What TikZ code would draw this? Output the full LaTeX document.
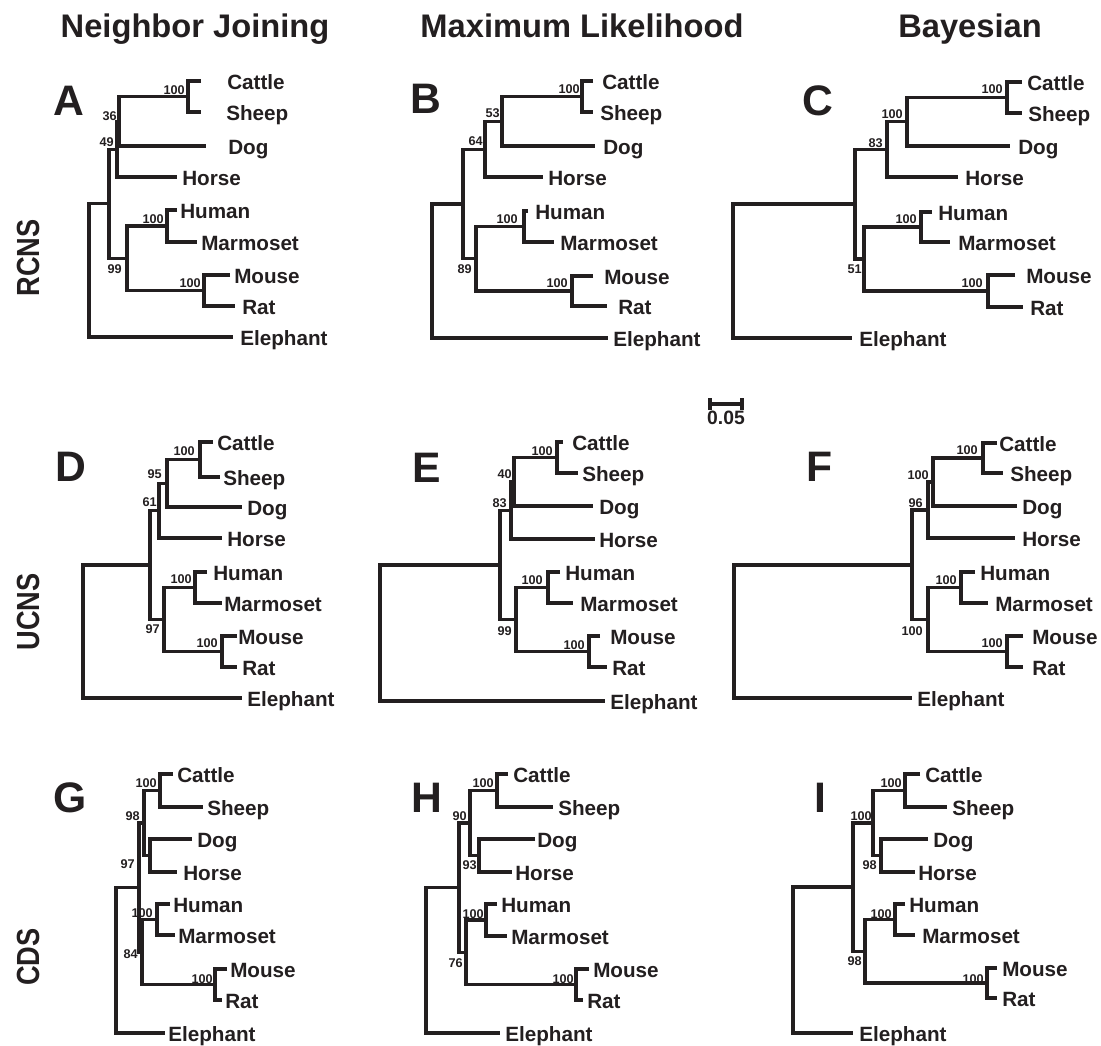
\documentclass[tikz,border=0pt]{standalone}
\usepackage{fontspec}
\setmainfont{Liberation Sans}
\definecolor{Ink}{HTML}{231F20}
\tikzset{
  br/.style={draw=Ink, line width=2.3pt},
  tip/.style={anchor=base west, yshift=-6pt, inner sep=0pt, text=Ink, font=\fontsize{15.5}{18}\selectfont\bfseries},
  bs/.style={anchor=base east, inner sep=0pt, text=Ink, font=\fontsize{9.5}{11}\selectfont\bfseries},
  pl/.style={anchor=base west, inner sep=0pt, text=Ink, font=\fontsize{32}{36}\selectfont\bfseries},
  hd/.style={anchor=base, inner sep=0pt, text=Ink, font=\fontsize{24.5}{28}\selectfont\bfseries},
  rl/.style={rotate=90, inner sep=0pt, text=Ink, font=\fontsize{24}{28}\selectfont\bfseries}
}
\begin{document}
\begin{tikzpicture}[x=0.75pt, y=-0.75pt]
  \useasboundingbox (0,0) rectangle (1101,1046);

  \node[hd] (hNJ) at (195,37) {Neighbor Joining};
  \node[hd] (hML) at (582,37) {Maximum Likelihood};
  \node[hd] (hBA) at (970,37) {Bayesian};
  \node[rl] (rR) at (28,258) {\scalebox{0.85}[1]{RCNS}};
  \node[rl] (rU) at (28,612) {\scalebox{0.85}[1]{UCNS}};
  \node[rl] (rC) at (28,957) {\scalebox{0.85}[1]{CDS}};

  % A
  \node[pl] (lA) at (53,115) {A};
  \coordinate (aCat) at (201,81);  \node[tip] (aCatT) at (227,81) {Cattle};
  \coordinate (aShp) at (201,112); \node[tip] (aShpT) at (226,112) {Sheep};
  \coordinate (aDog) at (206,146); \node[tip] (aDogT) at (228,146) {Dog};
  \coordinate (aHor) at (177,177); \node[tip] (aHorT) at (182,177) {Horse};
  \coordinate (aHum) at (177,210); \node[tip] (aHumT) at (180,210) {Human};
  \coordinate (aMar) at (197,242); \node[tip] (aMarT) at (201,242) {Marmoset};
  \coordinate (aMou) at (230,275); \node[tip] (aMouT) at (234,275) {Mouse};
  \coordinate (aRat) at (235,306); \node[tip] (aRatT) at (242,306) {Rat};
  \coordinate (aEle) at (233,337); \node[tip] (aEleT) at (240,337) {Elephant};
  \coordinate (aCS) at (188,96.5);
  \coordinate (a36) at (119,121.3);
  \coordinate (a49) at (117,149.1);
  \coordinate (aHM) at (167,226);
  \coordinate (aMR) at (204,290.5);
  \coordinate (a99) at (127,258.3);
  \coordinate (aIn) at (109,203.7);
  \coordinate (aRt) at (89,270);
  \draw[br] (aCat) -| (aCS) |- (aShp);
  \draw[br] (aCS) -| (a36) |- (aDog);
  \draw[br] (a36) -| (a49) |- (aHor);
  \draw[br] (aHum) -| (aHM) |- (aMar);
  \draw[br] (aMou) -| (aMR) |- (aRat);
  \draw[br] (aHM) -| (a99) |- (aMR);
  \draw[br] (a49) -| (aIn) |- (a99);
  \draw[br] (aIn) -| (aRt) |- (aEle);
  \node[bs] (aB1) at (185,94) {100};
  \node[bs] (aB2) at (117,120) {36};
  \node[bs] (aB3) at (114,146) {49};
  \node[bs] (aB4) at (164,223) {100};
  \node[bs] (aB5) at (122,273) {99};
  \node[bs] (aB6) at (201,287) {100};

  % B
  \node[pl] (lB) at (410,113) {B};
  \coordinate (bCat) at (593,81);  \node[tip] (bCatT) at (602,81) {Cattle};
  \coordinate (bShp) at (593,112); \node[tip] (bShpT) at (600,112) {Sheep};
  \coordinate (bDog) at (595,146); \node[tip] (bDogT) at (603,146) {Dog};
  \coordinate (bHor) at (543,177); \node[tip] (bHorT) at (548,177) {Horse};
  \coordinate (bHum) at (528,211); \node[tip] (bHumT) at (535,211) {Human};
  \coordinate (bMar) at (554,242); \node[tip] (bMarT) at (560,242) {Marmoset};
  \coordinate (bMou) at (593,276); \node[tip] (bMouT) at (604,276) {Mouse};
  \coordinate (bRat) at (607,306); \node[tip] (bRatT) at (618,306) {Rat};
  \coordinate (bEle) at (608,338); \node[tip] (bEleT) at (613,338) {Elephant};
  \coordinate (bCS) at (582,96.5);
  \coordinate (b53) at (502,121.3);
  \coordinate (b64) at (485,149.1);
  \coordinate (bHM) at (524,226.5);
  \coordinate (bMR) at (572,291);
  \coordinate (b89) at (476,258.8);
  \coordinate (bIn) at (463,204);
  \coordinate (bRt) at (432,270);
  \draw[br] (bCat) -| (bCS) |- (bShp);
  \draw[br] (bCS) -| (b53) |- (bDog);
  \draw[br] (b53) -| (b64) |- (bHor);
  \draw[br] (bHum) -| (bHM) |- (bMar);
  \draw[br] (bMou) -| (bMR) |- (bRat);
  \draw[br] (bHM) -| (b89) |- (bMR);
  \draw[br] (b64) -| (bIn) |- (b89);
  \draw[br] (bIn) -| (bRt) |- (bEle);
  \node[bs] (bB1) at (580,93) {100};
  \node[bs] (bB2) at (500,117) {53};
  \node[bs] (bB3) at (483,145) {64};
  \node[bs] (bB4) at (518,223) {100};
  \node[bs] (bB5) at (472,273) {89};
  \node[bs] (bB6) at (568,287) {100};

  % C
  \node[pl] (lC) at (802,115) {C};
  \coordinate (cCat) at (1022,82);  \node[tip] (cCatT) at (1027,82) {Cattle};
  \coordinate (cShp) at (1022,113); \node[tip] (cShpT) at (1028,113) {Sheep};
  \coordinate (cDog) at (1010,146); \node[tip] (cDogT) at (1018,146) {Dog};
  \coordinate (cHor) at (958,177);  \node[tip] (cHorT) at (965,177) {Horse};
  \coordinate (cHum) at (932,212);  \node[tip] (cHumT) at (938,212) {Human};
  \coordinate (cMar) at (950,242);  \node[tip] (cMarT) at (958,242) {Marmoset};
  \coordinate (cMou) at (1015,275); \node[tip] (cMouT) at (1026,275) {Mouse};
  \coordinate (cRat) at (1023,307); \node[tip] (cRatT) at (1030,307) {Rat};
  \coordinate (cEle) at (852,338);  \node[tip] (cEleT) at (859,338) {Elephant};
  \coordinate (cCS) at (1007,97.5);
  \coordinate (c100) at (907,121.8);
  \coordinate (c83) at (887,149.4);
  \coordinate (cHM) at (921,227);
  \coordinate (cMR) at (988,291);
  \coordinate (c51) at (864,259);
  \coordinate (cIn) at (855,204);
  \coordinate (cRt) at (733,270);
  \draw[br] (cCat) -| (cCS) |- (cShp);
  \draw[br] (cCS) -| (c100) |- (cDog);
  \draw[br] (c100) -| (c83) |- (cHor);
  \draw[br] (cHum) -| (cHM) |- (cMar);
  \draw[br] (cMou) -| (cMR) |- (cRat);
  \draw[br] (cHM) -| (c51) |- (cMR);
  \draw[br] (c83) -| (cIn) |- (c51);
  \draw[br] (cIn) -| (cRt) |- (cEle);
  \node[bs] (cB1) at (1003,93) {100};
  \node[bs] (cB2) at (903,118) {100};
  \node[bs] (cB3) at (883,147) {83};
  \node[bs] (cB4) at (917,223) {100};
  \node[bs] (cB5) at (862,273) {51};
  \node[bs] (cB6) at (983,287) {100};

  \draw[br] (710,398) -- (710,410) (710,404) -- (742,404) (742,398) -- (742,410);
  \node[anchor=base, inner sep=0pt, text=Ink, font=\fontsize{14.5}{17}\selectfont\bfseries] (scl) at (726,424) {0.05};

  % D
  \node[pl] (lD) at (55,481) {D};
  \coordinate (dCat) at (213,442); \node[tip] (dCatT) at (217,442) {Cattle};
  \coordinate (dShp) at (220,477); \node[tip] (dShpT) at (223,477) {Sheep};
  \coordinate (dDog) at (242,507); \node[tip] (dDogT) at (247,507) {Dog};
  \coordinate (dHor) at (222,538); \node[tip] (dHorT) at (227,538) {Horse};
  \coordinate (dHum) at (207,572); \node[tip] (dHumT) at (213,572) {Human};
  \coordinate (dMar) at (222,603); \node[tip] (dMarT) at (224,603) {Marmoset};
  \coordinate (dMou) at (237,636); \node[tip] (dMouT) at (238,636) {Mouse};
  \coordinate (dRat) at (237,667); \node[tip] (dRatT) at (242,667) {Rat};
  \coordinate (dEle) at (242,698); \node[tip] (dEleT) at (247,698) {Elephant};
  \coordinate (dCS) at (200,459.5);
  \coordinate (d95) at (167,483.3);
  \coordinate (d61) at (159,510.6);
  \coordinate (dHM) at (195,587.5);
  \coordinate (dMR) at (222,651.5);
  \coordinate (d97) at (164,619.5);
  \coordinate (dIn) at (150,565);
  \coordinate (dRt) at (83,630);
  \draw[br] (dCat) -| (dCS) |- (dShp);
  \draw[br] (dCS) -| (d95) |- (dDog);
  \draw[br] (d95) -| (d61) |- (dHor);
  \draw[br] (dHum) -| (dHM) |- (dMar);
  \draw[br] (dMou) -| (dMR) |- (dRat);
  \draw[br] (dHM) -| (d97) |- (dMR);
  \draw[br] (d61) -| (dIn) |- (d97);
  \draw[br] (dIn) -| (dRt) |- (dEle);
  \node[bs] (dB1) at (195,455) {100};
  \node[bs] (dB2) at (162,478) {95};
  \node[bs] (dB3) at (157,506) {61};
  \node[bs] (dB4) at (192,583) {100};
  \node[bs] (dB5) at (160,633) {97};
  \node[bs] (dB6) at (218,647) {100};

  % E
  \node[pl] (lE) at (412,482) {E};
  \coordinate (eCat) at (563,442); \node[tip] (eCatT) at (572,442) {Cattle};
  \coordinate (eShp) at (578,473); \node[tip] (eShpT) at (582,473) {Sheep};
  \coordinate (eDog) at (593,506); \node[tip] (eDogT) at (599,506) {Dog};
  \coordinate (eHor) at (595,539); \node[tip] (eHorT) at (599,539) {Horse};
  \coordinate (eHum) at (560,572); \node[tip] (eHumT) at (565,572) {Human};
  \coordinate (eMar) at (573,603); \node[tip] (eMarT) at (580,603) {Marmoset};
  \coordinate (eMou) at (600,636); \node[tip] (eMouT) at (610,636) {Mouse};
  \coordinate (eRat) at (607,667); \node[tip] (eRatT) at (612,667) {Rat};
  \coordinate (eEle) at (605,701); \node[tip] (eEleT) at (610,701) {Elephant};
  \coordinate (eCS) at (557,457.5);
  \coordinate (e40) at (514,481.8);
  \coordinate (e83) at (511,510.4);
  \coordinate (eHM) at (548,587.5);
  \coordinate (eMR) at (589,651.5);
  \coordinate (e99) at (516,619.5);
  \coordinate (eIn) at (500,565);
  \coordinate (eRt) at (380,630);
  \draw[br] (eCat) -| (eCS) |- (eShp);
  \draw[br] (eCS) -| (e40) |- (eDog);
  \draw[br] (e40) -| (e83) |- (eHor);
  \draw[br] (eHum) -| (eHM) |- (eMar);
  \draw[br] (eMou) -| (eMR) |- (eRat);
  \draw[br] (eHM) -| (e99) |- (eMR);
  \draw[br] (e83) -| (eIn) |- (e99);
  \draw[br] (eIn) -| (eRt) |- (eEle);
  \node[bs] (eB1) at (553,455) {100};
  \node[bs] (eB2) at (512,478) {40};
  \node[bs] (eB3) at (507,507) {83};
  \node[bs] (eB4) at (543,584) {100};
  \node[bs] (eB5) at (512,635) {99};
  \node[bs] (eB6) at (585,649) {100};

  % F
  \node[pl] (lF) at (806,481) {F};
  \coordinate (fCat) at (997,443);  \node[tip] (fCatT) at (999,443) {Cattle};
  \coordinate (fShp) at (1003,473); \node[tip] (fShpT) at (1010,473) {Sheep};
  \coordinate (fDog) at (1017,506); \node[tip] (fDogT) at (1022,506) {Dog};
  \coordinate (fHor) at (1015,538); \node[tip] (fHorT) at (1022,538) {Horse};
  \coordinate (fHum) at (975,572);  \node[tip] (fHumT) at (980,572) {Human};
  \coordinate (fMar) at (988,603);  \node[tip] (fMarT) at (995,603) {Marmoset};
  \coordinate (fMou) at (1023,636); \node[tip] (fMouT) at (1032,636) {Mouse};
  \coordinate (fRat) at (1023,667); \node[tip] (fRatT) at (1032,667) {Rat};
  \coordinate (fEle) at (912,698);  \node[tip] (fEleT) at (917,698) {Elephant};
  \coordinate (fCS) at (983,458);
  \coordinate (f100) at (933,482);
  \coordinate (f96) at (928,510);
  \coordinate (fHM) at (961,587.5);
  \coordinate (fMR) at (1007,651.5);
  \coordinate (fEu) at (928,619.5);
  \coordinate (fIn) at (912,565);
  \coordinate (fRt) at (734,630);
  \draw[br] (fCat) -| (fCS) |- (fShp);
  \draw[br] (fCS) -| (f100) |- (fDog);
  \draw[br] (f100) -| (f96) |- (fHor);
  \draw[br] (fHum) -| (fHM) |- (fMar);
  \draw[br] (fMou) -| (fMR) |- (fRat);
  \draw[br] (fHM) -| (fEu) |- (fMR);
  \draw[br] (f96) -| (fIn) |- (fEu);
  \draw[br] (fIn) -| (fRt) |- (fEle);
  \node[bs] (fB1) at (978,454) {100};
  \node[bs] (fB2) at (929,479) {100};
  \node[bs] (fB3) at (923,507) {96};
  \node[bs] (fB4) at (957,584) {100};
  \node[bs] (fB5) at (923,635) {100};
  \node[bs] (fB6) at (1003,647) {100};

  % G
  \node[pl] (lG) at (53,812) {G};
  \coordinate (gCat) at (173,774);  \node[tip] (gCatT) at (177,774) {Cattle};
  \coordinate (gShp) at (203,807);  \node[tip] (gShpT) at (207,807) {Sheep};
  \coordinate (gDog) at (192,839);  \node[tip] (gDogT) at (197,839) {Dog};
  \coordinate (gHor) at (177,872);  \node[tip] (gHorT) at (183,872) {Horse};
  \coordinate (gHum) at (170,904);  \node[tip] (gHumT) at (173,904) {Human};
  \coordinate (gMar) at (175,935);  \node[tip] (gMarT) at (178,935) {Marmoset};
  \coordinate (gMou) at (227,969);  \node[tip] (gMouT) at (230,969) {Mouse};
  \coordinate (gRat) at (222,1000); \node[tip] (gRatT) at (225,1000) {Rat};
  \coordinate (gEle) at (165,1033); \node[tip] (gEleT) at (168,1033) {Elephant};
  \coordinate (gCS) at (160,790.5);
  \coordinate (gDH) at (150,855.5);
  \coordinate (g98) at (144,823);
  \coordinate (gHM) at (157,919.5);
  \coordinate (gMR) at (215,984.5);
  \coordinate (g84) at (142,952);
  \coordinate (g97) at (139,887.5);
  \coordinate (gRt) at (116,960);
  \draw[br] (gCat) -| (gCS) |- (gShp);
  \draw[br] (gDog) -| (gDH) |- (gHor);
  \draw[br] (gCS) -| (g98) |- (gDH);
  \draw[br] (gHum) -| (gHM) |- (gMar);
  \draw[br] (gMou) -| (gMR) |- (gRat);
  \draw[br] (gHM) -| (g84) |- (gMR);
  \draw[br] (g98) -| (g97) |- (g84);
  \draw[br] (g97) -| (gRt) |- (gEle);
  \node[bs] (gB1) at (157,787) {100};
  \node[bs] (gB2) at (140,820) {98};
  \node[bs] (gB3) at (135,868) {97};
  \node[bs] (gB4) at (153,917) {100};
  \node[bs] (gB5) at (138,958) {84};
  \node[bs] (gB6) at (213,983) {100};

  % H
  \node[pl] (lH) at (411,812) {H};
  \coordinate (hCat) at (508,774);  \node[tip] (hCatT) at (513,774) {Cattle};
  \coordinate (hShp) at (553,807);  \node[tip] (hShpT) at (558,807) {Sheep};
  \coordinate (hDog) at (535,839);  \node[tip] (hDogT) at (537,839) {Dog};
  \coordinate (hHor) at (512,872);  \node[tip] (hHorT) at (515,872) {Horse};
  \coordinate (hHum) at (497,904);  \node[tip] (hHumT) at (501,904) {Human};
  \coordinate (hMar) at (507,936);  \node[tip] (hMarT) at (511,936) {Marmoset};
  \coordinate (hMou) at (589,969);  \node[tip] (hMouT) at (593,969) {Mouse};
  \coordinate (hRat) at (583,1000); \node[tip] (hRatT) at (587,1000) {Rat};
  \coordinate (hEle) at (500,1033); \node[tip] (hEleT) at (505,1033) {Elephant};
  \coordinate (hCS) at (497,790.5);
  \coordinate (h93) at (479,855.5);
  \coordinate (h90) at (470,823);
  \coordinate (hHM) at (486,920);
  \coordinate (hMR) at (576,984.5);
  \coordinate (h76) at (466,952.3);
  \coordinate (hIn) at (459,887.6);
  \coordinate (hRt) at (426,960);
  \draw[br] (hCat) -| (hCS) |- (hShp);
  \draw[br] (hDog) -| (h93) |- (hHor);
  \draw[br] (hCS) -| (h90) |- (h93);
  \draw[br] (hHum) -| (hHM) |- (hMar);
  \draw[br] (hMou) -| (hMR) |- (hRat);
  \draw[br] (hHM) -| (h76) |- (hMR);
  \draw[br] (h90) -| (hIn) |- (h76);
  \draw[br] (hIn) -| (hRt) |- (hEle);
  \node[bs] (hB1) at (494,787) {100};
  \node[bs] (hB2) at (467,820) {90};
  \node[bs] (hB3) at (477,869) {93};
  \node[bs] (hB4) at (484,918) {100};
  \node[bs] (hB5) at (463,967) {76};
  \node[bs] (hB6) at (574,983) {100};

  % I
  \node[pl] (lI) at (814,812) {I};
  \coordinate (iCat) at (920,774);  \node[tip] (iCatT) at (925,774) {Cattle};
  \coordinate (iShp) at (947,807);  \node[tip] (iShpT) at (952,807) {Sheep};
  \coordinate (iDog) at (928,839);  \node[tip] (iDogT) at (933,839) {Dog};
  \coordinate (iHor) at (915,872);  \node[tip] (iHorT) at (918,872) {Horse};
  \coordinate (iHum) at (905,904);  \node[tip] (iHumT) at (909,904) {Human};
  \coordinate (iMar) at (915,935);  \node[tip] (iMarT) at (922,935) {Marmoset};
  \coordinate (iMou) at (997,968);  \node[tip] (iMouT) at (1002,968) {Mouse};
  \coordinate (iRat) at (997,998);  \node[tip] (iRatT) at (1002,998) {Rat};
  \coordinate (iEle) at (853,1033); \node[tip] (iEleT) at (859,1033) {Elephant};
  \coordinate (iCS) at (905,790.5);
  \coordinate (i98) at (881,855.5);
  \coordinate (i100) at (873,823);
  \coordinate (iHM) at (895,919.5);
  \coordinate (iMR) at (987,983);
  \coordinate (iEu) at (865,951.3);
  \coordinate (iIn) at (853,887);
  \coordinate (iRt) at (793,960);
  \draw[br] (iCat) -| (iCS) |- (iShp);
  \draw[br] (iDog) -| (i98) |- (iHor);
  \draw[br] (iCS) -| (i100) |- (i98);
  \draw[br] (iHum) -| (iHM) |- (iMar);
  \draw[br] (iMou) -| (iMR) |- (iRat);
  \draw[br] (iHM) -| (iEu) |- (iMR);
  \draw[br] (i100) -| (iIn) |- (iEu);
  \draw[br] (iIn) -| (iRt) |- (iEle);
  \node[bs] (iB1) at (902,787) {100};
  \node[bs] (iB2) at (872,820) {100};
  \node[bs] (iB3) at (877,869) {98};
  \node[bs] (iB4) at (892,918) {100};
  \node[bs] (iB5) at (862,965) {98};
  \node[bs] (iB6) at (984,983) {100};
\end{tikzpicture}
\end{document}
